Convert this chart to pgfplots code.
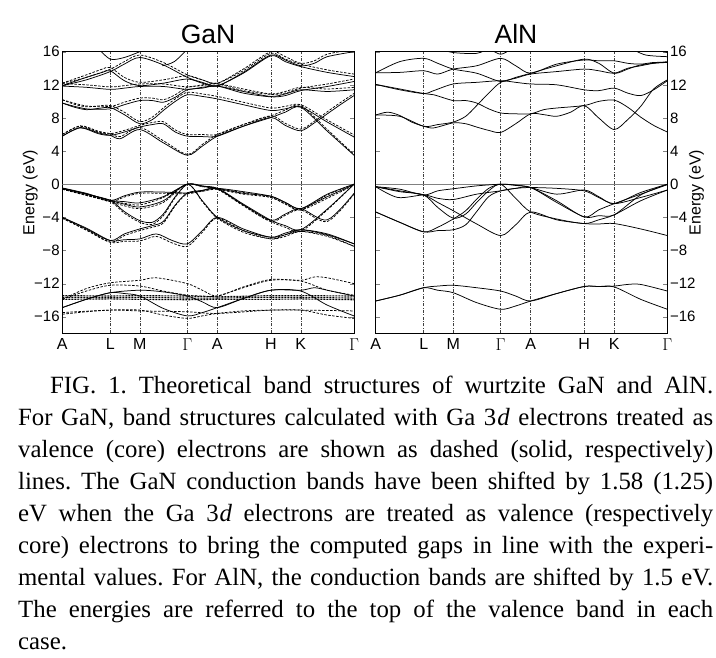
\documentclass[border=0pt]{standalone}
\usepackage{fontspec}
\setmainfont{Liberation Serif}
\newfontfamily\chartfont{Liberation Sans}
\usepackage{pgfplots}
\pgfplotsset{compat=1.18}

\newcommand\capfont{\fontsize{24.8bp}{31.9bp}\selectfont\frenchspacing}
\newcommand\tickfont{\fontsize{15bp}{16bp}\selectfont\chartfont}
\newcommand\labfont{\fontsize{16bp}{17bp}\selectfont\chartfont}
\newcommand\capline[2]{\node[anchor=base west, inner sep=0pt, font=\capfont] at (18bp,#1bp) {\hbox to 695bp{#2}};}

\pgfplotsset{
  bandaxis/.style={
    scale only axis, width=291.7bp, height=281.6bp,
    xmin=0, xmax=291.7, ymin=-18, ymax=16,
    xtick={0,48,77.5,125,155,208.5,238.5,291.7},
    xticklabels={A,L,M,$\Gamma$,A,H,K,$\Gamma$},
    ytick={-16,-12,-8,-4,0,4,8,12,16},
    yticklabels={−16,−12,−8,−4,0,4,8,12,16},
    xmajorgrids,
    major x grid style={black!75, line width=0.5bp, dash pattern=on 3bp off 1.5bp on 0.8bp off 1.5bp},
    xtick style={draw=none},
    tick pos=both, tick align=inside,
    major tick length=4bp,
    axis line style={line width=0.8bp},
    ticklabel style={font=\tickfont},
    yticklabel style={inner sep=2.5bp},
    xticklabel style={font=\labfont, yshift=-2bp},
    label style={font=\labfont},
    ylabel={Energy (eV)},
    cycle list={{black,solid,mark=none}},
    every axis plot/.append style={black, line width=0.75bp, smooth, tension=0.5, mark=none},
  },
  das/.style={dash pattern=on 2.5bp off 1.5bp},
  dd/.style={dash pattern=on 2bp off 1bp, line width=1.1bp, sharp plot},
}

\begin{document}
\begin{tikzpicture}
\useasboundingbox (0,0) rectangle (716bp,658bp);

% ---------------- GaN ----------------
\begin{axis}[bandaxis, at={(62.3bp,324.7bp)}, anchor=south west,
  ylabel style={at={(axis description cs:0,0.5)}, anchor=center, yshift=32bp}]
\addplot[gray, line width=0.5bp, sharp plot] coordinates {(0,0)(291.7,0)};

% valence (3d) electrons, dashed
\addplot[das] coordinates {(0,6.0)(18,7.05)(36,6.4)(48,6.1)(58,5.75)(77.5,6.85)(101,5.25)(125,3.6)(140,4.8)(155,6.0)(181,7.2)(208.5,8.25)(223,8.95)(238.5,9.5)(265,6.6)(291.7,3.6)};
\addplot[das] coordinates {(0,6.0)(18,7.0)(36,6.3)(48,6.1)(62,6.5)(77.5,7.1)(90,7.45)(101,7.55)(113,6.55)(125,6.0)(140,6.0)(155,6.0)(181,7.2)(208.5,8.25)(223,7.35)(238.5,6.65)(252,7.6)(265,8.75)(278,9.85)(291.7,10.95)};
\addplot[das] coordinates {(0,10.2)(12,9.65)(24,9.35)(36,9.45)(48,9.5)(62,8.7)(77.5,7.55)(90,8.1)(101,9.2)(113,10.3)(125,11.1)(140,10.9)(155,10.6)(181,9.9)(208.5,9.2)(223,9.4)(238.5,9.6)(265,7.75)(291.7,5.95)};
\addplot[das] coordinates {(0,10.2)(24,9.45)(48,9.4)(62,9.9)(77.5,10.4)(90,10.4)(101,10.2)(113,10.8)(125,11.7)(140,11.9)(155,12.1)(181,11.3)(208.5,10.85)(223,11.0)(238.5,11.6)(265,12.1)(291.7,12.7)};
\addplot[das] coordinates {(0,12.15)(24,12.0)(48,11.75)(62,11.9)(77.5,12.1)(101,12.1)(125,11.75)(140,12.0)(155,12.15)(181,11.5)(208.5,10.9)(223,11.2)(238.5,11.7)(265,11.5)(291.7,11.7)};
\addplot[das] coordinates {(0,12.2)(24,13.2)(40,13.9)(48,14.1)(62,12.9)(77.5,12.3)(101,12.6)(125,13.1)(140,12.6)(155,12.2)(181,13.9)(208.5,16.0)(223,15.4)(238.5,14.6)(252,14.9)(265,15.7)(291.7,16.3)};
\addplot[das] coordinates {(0,12.2)(24,12.9)(48,13.9)(62,14.8)(77.5,15.6)(101,14.7)(125,13.2)(140,12.6)(155,12.2)(181,13.7)(208.5,15.8)(223,15.1)(238.5,14.5)(265,13.8)(291.7,13.3)};

\addplot[das] coordinates {(0,-0.55)(24,-1.2)(48,-2.1)(62,-1.55)(77.5,-1.1)(101,-1.1)(125,-1.15)(140,-0.85)(155,-0.6)(181,-1.0)(208.5,-1.6)(223,-2.35)(238.5,-3.1)(265,-1.7)(291.7,-0.1)};
\addplot[das] coordinates {(0,-0.6)(24,-1.35)(48,-2.1)(62,-2.3)(77.5,-2.5)(101,-1.6)(125,0)(140,-0.25)(155,-0.6)(181,-1.2)(208.5,-1.6)(223,-2.4)(238.5,-3.1)(265,-1.3)(291.7,0)};
\addplot[das] coordinates {(0,-0.6)(24,-1.3)(48,-2.1)(62,-2.6)(77.5,-2.95)(101,-2.2)(125,0)(140,-2.1)(155,-4.1)(181,-5.8)(208.5,-6.6)(223,-6.3)(238.5,-5.7)(265,-6.2)(291.7,-7.5)};
\addplot[das] coordinates {(0,-0.6)(24,-1.35)(48,-2.1)(62,-3.5)(77.5,-4.6)(90,-4.85)(101,-3.8)(113,-1.6)(125,0)(140,-0.3)(155,-0.6)(181,-2.6)(208.5,-4.5)(223,-3.75)(238.5,-3.1)(265,-4.5)(291.7,-1.2)};
\addplot[das] coordinates {(0,-4.1)(24,-5.55)(48,-7.0)(62,-6.2)(77.5,-5.6)(90,-5.2)(101,-4.7)(113,-2.6)(125,-1.15)(140,-0.85)(155,-0.6)(181,-2.5)(208.5,-4.5)(223,-5.2)(238.5,-5.7)(265,-3.1)(291.7,0)};
\addplot[das] coordinates {(0,-4.1)(24,-5.5)(48,-7.0)(62,-6.9)(77.5,-6.85)(94,-6.3)(110,-7.1)(125,-7.5)(140,-5.8)(155,-4.1)(181,-5.6)(208.5,-6.6)(223,-6.1)(238.5,-5.7)(265,-6.3)(291.7,-7.5)};

\addplot[das] coordinates {(0,-13.9)(24,-12.6)(48,-11.9)(77.5,-11.6)(94,-11.3)(125,-12.0)(140,-12.8)(155,-13.5)(181,-12.4)(208.5,-11.5)(238.5,-11.6)(252,-11.2)(265,-11.3)(291.7,-12.0)};
\addplot[das] coordinates {(0,-13.9)(24,-12.9)(48,-12.2)(77.5,-12.3)(101,-12.9)(125,-13.4)(140,-13.5)(155,-13.5)(181,-12.5)(208.5,-11.6)(238.5,-11.7)(265,-12.8)(291.7,-13.4)};
\addplot[das] coordinates {(0,-15.7)(24,-15.4)(48,-15.2)(77.5,-15.2)(101,-15.8)(125,-16.2)(140,-15.9)(155,-15.6)(181,-15.3)(208.5,-15.2)(238.5,-15.2)(265,-15.8)(291.7,-16.2)};
\addplot[das] coordinates {(0,-15.5)(48,-15.2)(77.5,-15.3)(125,-15.4)(155,-15.6)(208.5,-15.2)(238.5,-15.2)(291.7,-15.3)};
\addplot[dd] coordinates {(0,-13.45)(48,-13.5)(77.5,-13.45)(125,-13.5)(155,-13.6)(208.5,-13.45)(238.5,-13.45)(291.7,-13.5)};
\addplot[dd] coordinates {(0,-13.65)(48,-13.7)(77.5,-13.65)(125,-13.75)(155,-13.75)(208.5,-13.65)(238.5,-13.65)(291.7,-13.75)};
\addplot[dd] coordinates {(0,-13.9)(48,-13.85)(77.5,-13.9)(125,-13.95)(155,-13.9)(208.5,-13.9)(238.5,-13.85)(291.7,-13.95)};

% core 3d electrons, solid
\addplot coordinates {(0,5.8)(18,6.85)(36,6.2)(48,5.9)(58,5.5)(77.5,6.6)(101,5.0)(125,3.5)(140,4.6)(155,5.8)(181,7.0)(208.5,8.05)(223,8.7)(238.5,9.3)(265,6.4)(291.7,3.5)};
\addplot coordinates {(0,5.8)(18,6.8)(36,6.1)(48,5.9)(62,6.3)(77.5,6.9)(90,7.2)(101,7.3)(113,6.3)(125,5.8)(140,5.75)(155,5.8)(181,7.0)(208.5,8.05)(223,7.1)(238.5,6.45)(252,7.4)(265,8.5)(278,9.6)(291.7,10.7)};
\addplot coordinates {(0,9.8)(12,9.3)(24,9.0)(36,9.15)(48,9.25)(62,8.4)(77.5,7.3)(90,7.8)(101,8.9)(113,10.0)(125,10.8)(140,10.6)(155,10.3)(181,9.6)(208.5,8.9)(223,9.1)(238.5,9.35)(265,7.5)(291.7,5.7)};
\addplot coordinates {(0,9.8)(24,9.1)(48,9.1)(62,9.6)(77.5,10.1)(90,10.1)(101,9.9)(113,10.5)(125,11.4)(140,11.6)(155,11.85)(181,11.0)(208.5,10.55)(223,10.7)(238.5,11.3)(265,11.8)(291.7,12.4)};
\addplot coordinates {(0,11.85)(24,11.7)(48,11.45)(62,11.6)(77.5,11.8)(101,11.8)(125,11.45)(140,11.7)(155,11.85)(181,11.2)(208.5,10.6)(223,10.9)(238.5,11.4)(265,11.2)(291.7,11.4)};
\addplot coordinates {(0,11.9)(24,12.9)(40,13.5)(48,13.7)(62,12.5)(77.5,11.9)(101,12.2)(125,12.7)(140,12.2)(155,11.85)(181,13.5)(208.5,15.6)(223,15.0)(238.5,14.3)(252,14.6)(265,15.4)(291.7,16.0)};
\addplot coordinates {(0,11.9)(24,12.6)(48,13.6)(62,14.5)(77.5,15.3)(101,14.4)(125,12.9)(140,12.3)(155,11.9)(181,13.4)(208.5,15.5)(223,14.8)(238.5,14.2)(265,13.5)(291.7,13.0)};
\addplot coordinates {(36,16.4)(48,15.1)(62,15.3)(77.5,16.0)(90,16.6)};
\addplot coordinates {(100,14.3)(112,14.8)(125,16.3)};

\addplot coordinates {(0,-0.45)(24,-1.1)(48,-1.95)(62,-1.4)(77.5,-0.95)(101,-0.95)(125,-1.05)(140,-0.75)(155,-0.5)(181,-0.9)(208.5,-1.45)(223,-2.2)(238.5,-2.95)(265,-1.5)(291.7,-0.05)};
\addplot coordinates {(0,-0.5)(24,-1.2)(48,-1.95)(62,-2.1)(77.5,-2.25)(101,-1.5)(125,0)(140,-0.2)(155,-0.5)(181,-1.1)(208.5,-1.45)(223,-2.2)(238.5,-2.95)(265,-1.2)(291.7,0)};
\addplot coordinates {(0,-0.5)(24,-1.15)(48,-1.95)(62,-2.4)(77.5,-2.75)(101,-2.0)(125,0)(140,-2.0)(155,-4.0)(181,-5.6)(208.5,-6.4)(223,-6.1)(238.5,-5.5)(265,-6.0)(291.7,-7.2)};
\addplot coordinates {(0,-0.5)(24,-1.2)(48,-1.95)(62,-3.3)(77.5,-4.4)(90,-4.6)(101,-3.6)(113,-1.5)(125,0)(140,-0.25)(155,-0.5)(181,-2.5)(208.5,-4.35)(223,-3.6)(238.5,-2.95)(265,-4.3)(291.7,-1.1)};
\addplot coordinates {(0,-4.0)(24,-5.4)(48,-6.8)(62,-6.0)(77.5,-5.4)(90,-5.0)(101,-4.5)(113,-2.5)(125,-1.05)(140,-0.75)(155,-0.5)(181,-2.4)(208.5,-4.35)(223,-5.0)(238.5,-5.5)(265,-3.0)(291.7,0)};
\addplot coordinates {(0,-4.0)(24,-5.3)(48,-6.8)(62,-6.7)(77.5,-6.6)(94,-6.0)(110,-6.8)(125,-7.2)(140,-5.6)(155,-4.0)(181,-5.4)(208.5,-6.4)(223,-5.9)(238.5,-5.5)(265,-6.1)(291.7,-7.2)};

\addplot coordinates {(0,-14.9)(24,-13.9)(48,-13.1)(77.5,-12.8)(101,-13.0)(125,-13.5)(140,-14.2)(155,-14.9)(181,-13.8)(208.5,-12.8)(238.5,-12.8)(252,-12.5)(265,-12.8)(291.7,-13.5)};
\addplot coordinates {(0,-14.9)(24,-13.9)(48,-13.1)(62,-13.2)(77.5,-13.5)(101,-15.0)(125,-15.9)(140,-15.5)(155,-14.9)(181,-13.8)(208.5,-12.8)(238.5,-12.9)(265,-14.6)(291.7,-15.9)};
\end{axis}

% ---------------- AlN ----------------
\begin{axis}[bandaxis, at={(375.7bp,324.7bp)}, anchor=south west,
  yticklabel pos=right,
  ylabel style={at={(axis description cs:1,0.5)}, anchor=center, yshift=-29bp}]
\addplot[gray, line width=0.5bp, sharp plot] coordinates {(0,0)(291.7,0)};

\addplot coordinates {(0,8.35)(12,8.7)(24,8.3)(36,7.5)(48,7.0)(58,6.8)(77.5,7.4)(90,7.3)(101,6.9)(113,6.5)(125,6.25)(140,7.3)(155,8.5)(168,8.4)(181,8.2)(195,8.7)(208.5,9.5)(223,8.0)(238.5,6.6)(252,7.8)(265,9.4)(278,11.5)(291.7,12.6)};
\addplot coordinates {(0,8.35)(24,8.2)(48,7.0)(62,7.2)(77.5,7.5)(90,8.2)(101,9.5)(113,11.0)(125,12.3)(140,12.8)(155,13.3)(181,13.6)(208.5,13.9)(223,13.7)(238.5,13.4)(252,14.0)(265,14.3)(278,14.6)(291.7,14.7)};
\addplot coordinates {(0,12.05)(24,11.5)(48,10.95)(58,10.8)(77.5,10.1)(90,10.1)(101,9.8)(113,9.1)(125,8.6)(140,8.5)(155,8.5)(168,9.0)(181,9.2)(208.5,9.5)(223,10.0)(238.5,10.15)(252,9.3)(265,8.1)(278,7.1)(291.7,6.3)};
\addplot coordinates {(0,12.05)(24,11.4)(48,10.95)(58,11.3)(77.5,12.1)(101,12.3)(125,12.5)(140,12.3)(155,12.1)(181,12.0)(208.5,11.4)(223,11.3)(238.5,11.6)(252,11.0)(265,10.7)(278,11.4)(291.7,12.5)};
\addplot coordinates {(0,13.45)(24,13.5)(48,13.7)(62,13.3)(77.5,13.9)(101,14.3)(125,15.2)(140,14.3)(155,13.4)(181,14.5)(208.5,15.0)(223,14.9)(238.5,14.9)(252,14.6)(265,14.5)(278,14.7)(291.7,14.7)};
\addplot coordinates {(0,13.45)(24,14.8)(48,15.2)(62,14.6)(77.5,13.9)(101,13.4)(125,12.4)(140,12.9)(155,13.4)(181,14.3)(208.5,15.1)(223,14.6)(238.5,13.4)(252,13.9)(265,14.4)(291.7,14.8)};
\addplot coordinates {(62,16.4)(77.5,15.9)(101,15.8)(113,16.4)};
\addplot coordinates {(112,16.5)(125,15.7)(138,16.5)};
\addplot coordinates {(255,16.4)(270,15.6)(291.7,15.4)};
\addplot coordinates {(272,16.5)(291.7,15.9)};

\addplot coordinates {(0,-0.3)(24,-0.6)(48,-1.3)(62,-0.8)(77.5,-0.55)(101,-0.2)(125,0)(140,-0.1)(155,-0.4)(181,-1.2)(208.5,-0.7)(223,-1.5)(238.5,-2.35)(265,-1.0)(291.7,0)};
\addplot coordinates {(0,-0.3)(22,-1.6)(48,-1.3)(62,-1.7)(77.5,-1.85)(101,-1.2)(125,-0.8)(140,-0.5)(155,-0.4)(181,-2.2)(208.5,-3.95)(223,-3.8)(238.5,-3.7)(265,-1.3)(291.7,0)};
\addplot coordinates {(0,-0.3)(24,-0.8)(48,-1.3)(62,-2.2)(77.5,-3.2)(101,-4.8)(125,-6.2)(140,-4.9)(155,-3.35)(181,-4.3)(208.5,-4.75)(223,-4.8)(238.5,-4.75)(265,-5.4)(291.7,-6.2)};
\addplot coordinates {(0,-0.3)(24,-0.9)(48,-1.3)(62,-2.8)(77.5,-4.1)(90,-3.6)(101,-2.2)(113,-0.8)(125,0)(140,-1.7)(155,-3.35)(181,-4.2)(208.5,-4.75)(223,-4.3)(238.5,-3.7)(265,-2.0)(291.7,-0.7)};
\addplot coordinates {(0,-3.35)(24,-4.6)(48,-5.75)(62,-5.2)(77.5,-4.2)(90,-3.2)(101,-1.8)(113,-0.5)(125,0)(140,-0.15)(155,-0.4)(181,-2.0)(208.5,-3.95)(223,-3.1)(238.5,-2.35)(265,-1.2)(291.7,-0.05)};
\addplot coordinates {(0,-3.35)(24,-4.6)(48,-5.75)(62,-5.6)(77.5,-5.5)(90,-4.9)(101,-3.3)(113,-1.5)(125,-0.8)(140,-0.5)(155,-0.4)(181,-0.5)(208.5,-0.8)(223,-1.6)(238.5,-2.35)(265,-1.6)(291.7,-0.7)};

\addplot coordinates {(0,-14.1)(24,-13.4)(48,-12.5)(62,-12.3)(77.5,-12.2)(101,-12.5)(125,-12.9)(140,-13.5)(155,-14.1)(181,-13.2)(208.5,-12.35)(223,-12.35)(238.5,-12.3)(252,-12.1)(265,-12.1)(291.7,-12.9)};
\addplot coordinates {(0,-14.1)(24,-13.4)(48,-12.5)(62,-12.8)(77.5,-13.1)(101,-14.3)(125,-15.1)(140,-14.7)(155,-14.1)(181,-13.2)(208.5,-12.35)(223,-12.35)(238.5,-12.4)(265,-13.9)(291.7,-15.1)};
\end{axis}

\node[font=\fontsize{26.5bp}{28bp}\selectfont\chartfont, anchor=base] at (208bp,614.7bp) {GaN};
\node[font=\fontsize{26.5bp}{28bp}\selectfont\chartfont, anchor=base] at (516bp,614.7bp) {AlN};

\capline{264}{\hspace*{32bp}FIG. 1. Theoretical band structures of wurtzite GaN and AlN.}
\capline{232.1}{For GaN, band structures calculated with Ga 3\kern1bp\textit{d} electrons treated as}
\capline{200.2}{valence (core) electrons are shown as dashed (solid, respectively)}
\capline{168.3}{lines. The GaN conduction bands have been shifted by 1.58 (1.25)}
\capline{136.4}{eV when the Ga 3\kern1bp\textit{d} electrons are treated as valence (respectively}
\capline{104.5}{core) electrons to bring the computed gaps in line with the experi-}
\capline{72.6}{mental values. For AlN, the conduction bands are shifted by 1.5 eV.}
\capline{40.7}{The energies are referred to the top of the valence band in each}
\capline{8.8}{case.\hfil}
\end{tikzpicture}
\end{document}
